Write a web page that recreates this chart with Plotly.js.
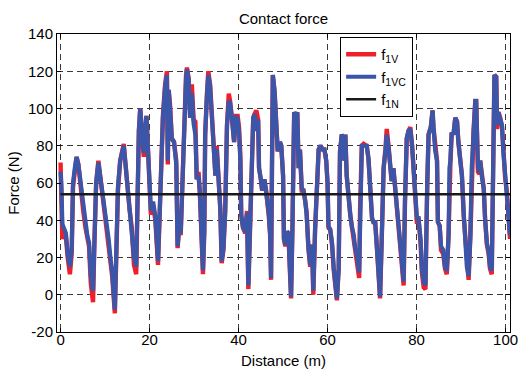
<!DOCTYPE html>
<html>
<head>
<meta charset="utf-8">
<script src="https://cdn.plot.ly/plotly-3.0.1.min.js"></script>
<style>html,body{margin:0;padding:0;background:#fff;}#chart{width:518px;height:369px;}</style>
</head>
<body>
<div id="chart"></div>
<script>
// Distance (m)
var dist = [
 0,0.2,0.4,0.8,1.2,1.6,2.1,2.5,2.8,3.2,3.6,4.0,4.3,4.6,5.1,5.6,6.0,6.4,6.8,7.3,7.6,8.0,8.5,8.9,9.3,9.8,10.3,10.8,11.2,11.6,12.2,
 12.5,12.9,13.4,14.2,14.6,15.0,15.5,16.0,16.5,17.0,17.3,17.6,17.9,18.3,18.7,19.3,19.6,19.9,20.3,20.8,21.3,21.9,22.3,22.7,23.0,23.5,23.9,24.1,
 24.3,24.6,25.0,25.5,26.0,26.3,26.7,27.0,27.3,27.6,27.9,28.2,28.4,28.8,29.1,29.5,29.9,30.3,30.6,31.0,31.3,31.6,32.0,32.3,32.5,32.9,33.2,33.6,34.0,34.4,34.8,35.1,35.5,35.9,36.2,
 36.6,37.0,37.4,37.8,38.1,38.5,39.0,39.4,39.8,40.1,40.4,40.6,41.0,41.5,41.9,42.2,42.6,43.0,43.3,43.6,44.0,44.4,44.6,45.0,45.3,45.8,46.2,46.8,47.1,47.3,
 47.5,47.7,48.1,48.5,48.8,49.3,49.6,50.0,50.2,50.5,50.9,51.2,51.6,51.8,52.1,52.5,52.9,53.2,53.5,53.8,54.2,54.6,55.0,55.3,55.7,56.1,56.5,56.8,57.2,
 57.6,58.0,58.4,58.9,59.3,59.7,60.0,60.2,60.6,61.0,61.4,61.7,62.1,62.5,62.8,63.2,63.5,63.8,64.0,64.3,64.6,65.1,65.5,65.9,66.2,66.6,67.1,67.3,
 67.7,68.1,68.5,68.8,69.2,69.6,70.0,70.3,70.7,71.1,71.4,71.8,72.2,72.6,73.0,73.3,73.7,74.1,74.4,74.8,75.2,75.6,76.0,76.3,76.7,77.1,77.4,
 77.8,78.2,78.6,79.0,79.3,79.7,80.1,80.4,80.9,81.2,81.6,82.0,82.4,82.7,83.2,83.6,83.8,84.2,84.6,84.8,85.2,85.5,86.0,86.4,86.8,87.2,
 87.4,87.6,87.9,88.3,88.7,89.1,89.4,89.8,90.2,90.6,90.9,91.3,91.7,92.1,92.4,92.8,93.2,93.4,93.8,94.1,94.3,94.7,95.1,95.4,95.8,96.2,96.5,96.9,97.3,
 97.5,97.9,98.1,98.4,98.8,99.2,99.5,99.9,100.3,100.7,101.0
];
// f1VC (N)
var f1VC = [
 66,58,38,36,33,22,15,24,60,68,74,70,64,60,47,38,32,28,10,2,30,60,71,64,57,48,40,30,20,12,-8,
 20,58,72,80,70,60,48,38,20,15,55,88,100,88,76,96,80,55,45,50,42,18,50,75,95,112,118,72,
 110,100,84,82,70,26,38,33,58,68,96,116,121,115,95,108,92,86,62,64,55,40,13,34,86,107,118,112,93,85,64,78,62,46,18,
 25,45,91,104,103,95,82,96,94,88,72,43,36,34,44,5,40,75,95,97,88,94,68,62,56,62,56,44,32,9,
 68,118,109,95,77,82,80,64,30,27,34,33,5,-1,35,98,96,98,68,78,57,56,50,43,25,16,27,2,35,
 62,78,80,78,78,72,60,37,35,28,14,4,-2,14,77,86,84,72,86,64,55,43,36,32,25,21,12,45,
 80,80,80,80,73,57,41,39,39,25,14,-1,32,68,77,86,79,64,61,68,57,50,39,28,14,7,50,
 84,88,89,80,64,55,40,42,30,14,7,5,59,86,90,99,90,77,72,39,37,26,24,15,13,32,
 68,72,87,86,95,93,82,72,64,44,34,15,10,32,68,88,104,104,68,66,72,63,57,41,28,23,15,13,68,
 118,117,91,98,95,91,77,63,55,43,32
];
// f1V (N)
var f1V = [
 71,58,30,34,31,20,11,22,58,66,74,70,62,56,45,36,30,26,6,-4,28,60,72,64,55,46,38,28,18,10,-10,
 18,56,72,81,70,58,46,36,16,11,53,88,100,86,74,96,78,53,43,48,40,16,48,75,96,113,120,70,
 110,102,84,82,72,25,37,32,58,68,96,118,122,116,97,113,94,93,62,66,55,38,11,34,86,108,120,113,95,86,64,80,62,46,17,
 24,45,91,108,104,95,82,96,96,90,75,43,36,33,45,3,40,75,95,97,99,94,68,62,56,62,56,42,32,8,
 68,118,109,95,77,82,80,64,30,26,34,33,4,-2,35,98,96,98,68,78,56,56,50,44,25,15,27,0,35,
 62,78,80,78,78,72,60,36,35,27,13,3,-3,14,77,86,84,72,86,64,55,43,36,30,24,19,9,45,
 80,81,80,80,73,57,41,39,39,25,13,-2,32,68,78,89,80,64,61,68,57,50,39,28,13,5,50,
 84,88,90,80,64,53,38,42,28,12,4,3,59,86,90,99,90,77,72,39,37,24,22,14,11,32,
 66,70,87,86,95,93,82,72,64,42,33,14,8,32,68,88,104,104,66,65,72,63,57,41,27,22,14,11,68,
 118,117,89,98,95,90,76,63,55,42,30
];
// f1N (N), constant level
var f1NDist = [0, 101];
var f1N = [54, 54];

var xTicks = [0, 20, 40, 60, 80, 100];
var yTicks = [-20, 0, 20, 40, 60, 80, 100, 120, 140];
var seriesNames = ['f<sub>1V</sub>', 'f<sub>1VC</sub>', 'f<sub>1N</sub>'];

var FONT = 'Liberation Sans, Arial, sans-serif';

var traces = [
  {x: dist, y: f1V, type: 'scatter', mode: 'lines', name: seriesNames[0],
   line: {color: '#f0202a', width: 4.4}},
  {x: dist, y: f1VC, type: 'scatter', mode: 'lines', name: seriesNames[1],
   line: {color: '#3b55a8', width: 4.2}},
  {x: f1NDist, y: f1N, type: 'scatter', mode: 'lines', name: seriesNames[2],
   line: {color: '#1a1a1a', width: 2.6}}
];

var axisCommon = {
  showline: true, linecolor: '#000', linewidth: 1, mirror: 'ticks',
  ticks: 'inside', ticklen: 4, tickcolor: '#000', tickwidth: 1,
  showgrid: true, gridcolor: '#3a3a3a', gridwidth: 1, griddash: '6px,4px',
  zeroline: false, ticklabeloverflow: 'allow',
  tickfont: {family: FONT, size: 15, color: '#000'}
};

var layout = {
  width: 518, height: 369,
  margin: {l: 57, r: 8, t: 34, b: 37},
  paper_bgcolor: '#fff', plot_bgcolor: '#fff',
  font: {family: FONT, size: 15, color: '#000'},
  title: {text: 'Contact force', font: {family: FONT, size: 15, color: '#000'},
          x: 0.5, xref: 'paper', xanchor: 'center', y: 0.95, yanchor: 'middle'},
  xaxis: Object.assign({}, axisCommon, {
    range: [-0.8, 101], tickvals: xTicks, ticktext: xTicks.map(String),
    ticklabelstandoff: -6,
    title: {text: 'Distance (m)', font: {family: FONT, size: 15}, standoff: 9}
  }),
  yaxis: Object.assign({}, axisCommon, {
    range: [-20, 140], tickvals: yTicks, ticktext: yTicks.map(String),
    title: {text: 'Force (N)', font: {family: FONT, size: 15}, standoff: 4}
  }),
  showlegend: true,
  legend: {x: 0.625, y: 0.99, xanchor: 'left', yanchor: 'top',
           bgcolor: '#fff', bordercolor: '#000', borderwidth: 1,
           font: {family: FONT, size: 15, color: '#000'},
           itemwidth: 30, tracegroupgap: 0}
};

Plotly.newPlot('chart', traces, layout, {displayModeBar: false, staticPlot: true});
</script>
</body>
</html>
